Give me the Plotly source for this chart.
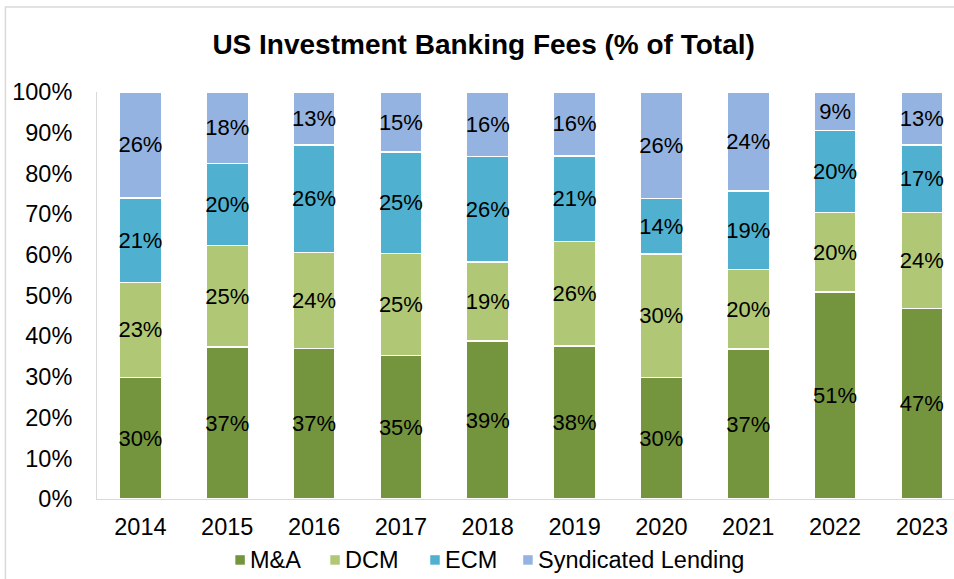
import plotly.graph_objects as go

years = ["2014", "2015", "2016", "2017", "2018", "2019", "2020", "2021", "2022", "2023"]
ma = [29.9, 37.3, 37.0, 35.3, 38.8, 37.6, 29.8, 36.8, 50.8, 46.8]
dcm = [23.3, 25.0, 23.6, 25.0, 19.4, 25.7, 30.4, 19.6, 19.6, 23.6]
ecm = [20.8, 20.1, 26.4, 24.9, 26.0, 21.0, 13.6, 19.3, 20.2, 16.6]
synd = [26.0, 17.6, 13.0, 14.8, 15.8, 15.7, 26.2, 24.3, 9.4, 13.0]

names = ["M&A", "DCM", "ECM", "Syndicated Lending"]
colors = ["#74953D", "#B0C875", "#4FB0CF", "#95B3E0"]
values = [ma, dcm, ecm, synd]

FONT = "Liberation Sans, Arial, sans-serif"

W, H = 954, 579
L, T = 96.6, 91.7
AX_Y = 499
B = H - AX_Y
pw = W - L
ph = H - T - B


def px_x(x):
    return (x - L) / pw


def px_y(y):
    return (AX_Y - y) / ph


fig = go.Figure()
for name, vals, col in zip(names, values, colors):
    fig.add_trace(go.Bar(
        x=years, y=vals, name=name,
        marker=dict(color=col, line=dict(color="white", width=1.5)),
        texttemplate="%{y:.0f}%",
        textposition="inside",
        insidetextanchor="middle",
        constraintext="none",
        textangle=0,
        textfont=dict(family=FONT, size=22, color="black"),
        hoverinfo="skip",
        showlegend=False,
    ))

# manual legend (square markers + labels), positions in pixels
leg_sq_x = [235, 330, 430, 523]
leg_y = 560
sq = 9.5
shapes = [dict(
    type="rect", xref="paper", yref="paper",
    x0=px_x(5), x1=1.05,
    y0=-0.4, y1=px_y(6.7),
    line=dict(color="#D9D9D9", width=1.5),
    fillcolor="rgba(0,0,0,0)",
    layer="below",
)]
annotations = []
for name, col, sx in zip(names, colors, leg_sq_x):
    shapes.append(dict(
        type="rect", xref="paper", yref="paper",
        x0=px_x(sx), x1=px_x(sx + sq),
        y0=px_y(leg_y + sq / 2), y1=px_y(leg_y - sq / 2),
        line=dict(width=0), fillcolor=col,
    ))
    annotations.append(dict(
        text=name, xref="paper", yref="paper",
        x=px_x(sx + sq + 4.5), y=px_y(leg_y),
        xanchor="left", yanchor="middle", showarrow=False,
        font=dict(family=FONT, size=23.5, color="black"),
        borderpad=0,
    ))

fig.update_layout(
    width=W, height=H,
    barmode="stack",
    bargap=0.515,
    plot_bgcolor="white",
    paper_bgcolor="white",
    margin=dict(l=L, r=0, t=T, b=B, pad=0),
    font=dict(family=FONT, size=23.5, color="black"),
    title=dict(
        text="<b>US Investment Banking Fees (% of Total)</b>",
        font=dict(family=FONT, size=28, color="black"),
        x=px_x(483.4), xref="paper", xanchor="center",
        y=1 - 44.5 / H, yref="container", yanchor="middle",
    ),
    showlegend=False,
    xaxis=dict(
        range=[-0.5, 9.37],
        showline=True, linecolor="#D9D9D9", linewidth=1,
        showgrid=False, ticks="",
        tickfont=dict(family=FONT, size=23.5, color="black"),
        ticklabelstandoff=7,
        fixedrange=True,
    ),
    yaxis=dict(
        range=[0, 100],
        dtick=10,
        ticksuffix="%",
        showline=True, linecolor="#D9D9D9", linewidth=1,
        showgrid=False, ticks="",
        zeroline=False,
        tickfont=dict(family=FONT, size=23.5, color="black"),
        ticklabelstandoff=19,
        fixedrange=True,
    ),
    shapes=shapes,
    annotations=annotations,
)

fig.write_html(
    "out.html",
    config={"displayModeBar": False},
    post_script="document.body.style.margin='0px';",
)
